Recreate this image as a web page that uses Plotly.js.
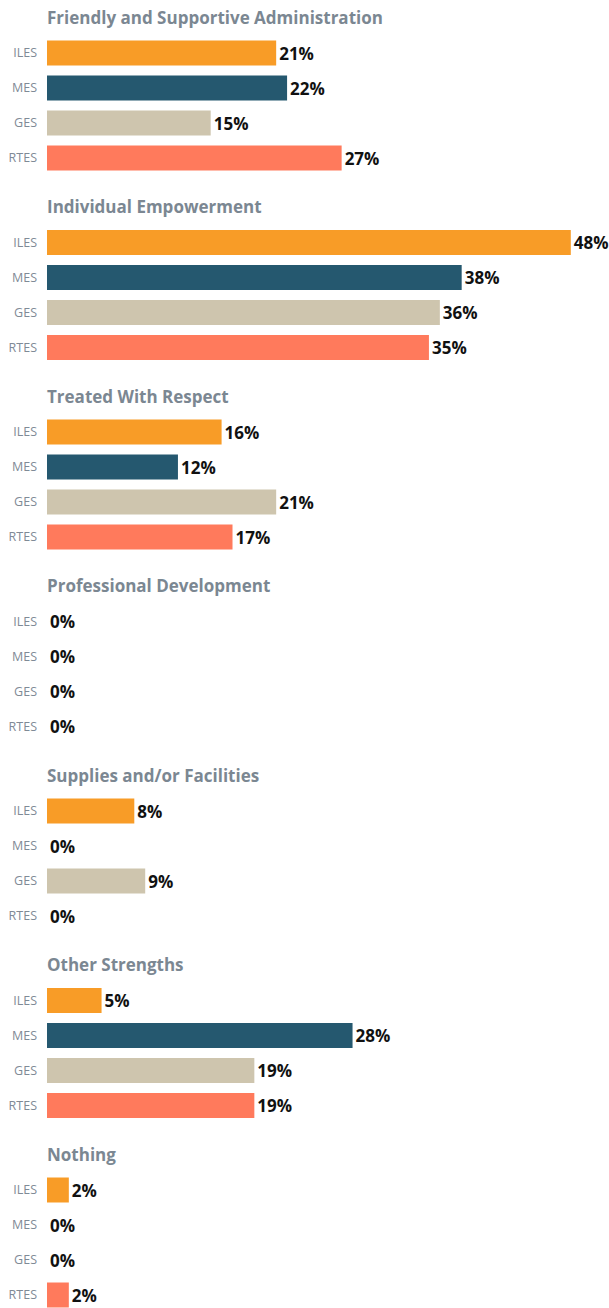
<!DOCTYPE html>
<html>
<head>
<meta charset="utf-8">
<script src="https://cdn.plot.ly/plotly-3.0.1.min.js"></script>
<style>html,body{margin:0;padding:0;background:#fff;}#chart{width:609px;height:1308px;}</style>
</head>
<body>
<div id="chart"></div>
<script>
const groups = ["Friendly and Supportive Administration","Individual Empowerment","Treated With Respect","Professional Development","Supplies and/or Facilities","Other Strengths","Nothing"];
const series = ["ILES","MES","GES","RTES"];
const ILES = [21,48,16,0,8,5,2];
const MES  = [22,38,12,0,0,28,0];
const GES  = [15,36,21,0,9,19,0];
const RTES = [27,35,17,0,0,19,2];
const colors = ["#F89C27","#25586F","#CEC5AE","#FF7A5C"];

const seriesValues = [ILES, MES, GES, RTES];
// layout constants (pixel units on the y axis)
const GROUP_STEP = 189.5, TITLE_TOP = 17, FIRST_BAR = 36, ROW = 35;
const titleY = g => TITLE_TOP + g * GROUP_STEP;
const barY = (g, i) => titleY(g) + FIRST_BAR + i * ROW;

const traces = series.map((s, i) => ({
  type: 'bar', orientation: 'h', name: s,
  x: seriesValues[i],
  y: groups.map((_, g) => barY(g, i)),
  width: 25,
  marker: {color: colors[i]},
  text: seriesValues[i].map(v => v + '%'),
  textposition: 'outside',
  textfont: {family: 'Open Sans', size: 17, color: '#111', weight: 700},
  cliponaxis: false,
  hoverinfo: 'skip'
}));

const tickvals = [], ticktext = [];
groups.forEach((_, g) => series.forEach((s, i) => { tickvals.push(barY(g, i)); ticktext.push(s); }));

const annotations = groups.map((t, g) => ({
  text: '<b>' + t + '</b>', xref: 'paper', yref: 'y', x: 0, y: titleY(g),
  xanchor: 'left', yanchor: 'middle', showarrow: false, xshift: -2,
  font: {family: 'Open Sans', size: 17, color: '#7B8792'}
}));

const layout = {
  width: 609, height: 1308,
  margin: {l: 47, r: 0, t: 0, b: 0},
  paper_bgcolor: '#fff', plot_bgcolor: '#fff',
  showlegend: false, barmode: 'overlay',
  xaxis: {range: [0, 51.5], visible: false, fixedrange: true},
  yaxis: {range: [1308, 0], tickvals: tickvals, ticktext: ticktext, showgrid: false, zeroline: false,
          showline: false, ticks: '', ticklabelstandoff: 9,
          tickfont: {family: 'Open Sans', size: 12.5, color: '#7F8A96'}},
  annotations: annotations
};
Plotly.newPlot('chart', traces, layout, {displayModeBar: false, staticPlot: true});
</script>
</body>
</html>
